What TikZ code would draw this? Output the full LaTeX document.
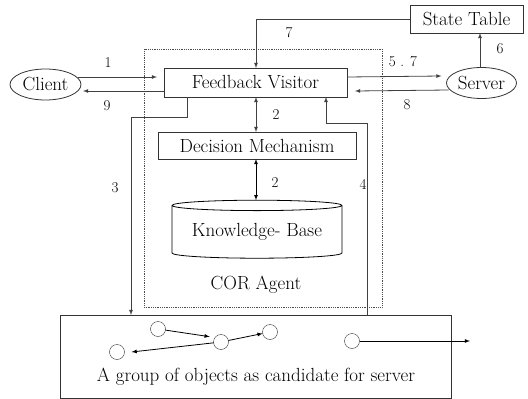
\documentclass[tikz,border=0pt]{standalone}
\usepackage{amsmath}
\usepackage{tikz}
\usetikzlibrary{shapes.geometric}

\begin{document}
\begin{tikzpicture}
  [x=1pt,y=-1pt,>=latex,
  box/.style={rectangle,draw=black!80,thick,align=center,inner sep=0,
                  outer sep=0,font=\fontsize{19}{22}\selectfont},
  actor/.style={ellipse,draw=black!80,thick,inner sep=0,
                  outer sep=0,font=\fontsize{19}{22}\selectfont},
  store/.style={cylinder,shape border rotate=90,draw=black,thick,aspect=0.08,
                  inner sep=0,outer sep=0,font=\fontsize{19}{22}\selectfont},
  agent/.style={rectangle,draw=black!70,densely dotted,thick,outer sep=0},
  obj/.style={circle,draw=black!80,minimum size=15,inner sep=0,outer sep=0},
  num/.style={font=\fontsize{15}{18}\selectfont},
  link/.style={thick,black!75}
                  ]
  \useasboundingbox (0,0) rectangle (528,399);

  \node[agent,minimum width=238,minimum height=258] (cor) at (263,178) {};
  \node[font=\fontsize{19}{22}\selectfont] (cortxt) at (256,285) {COR Agent};
  \node[actor,minimum width=71,minimum height=31] (client) at (45.5,84.5) {Client};
  \node[box,minimum width=183,minimum height=29] (fv) at (255.5,82.5) {Feedback Visitor};
  \node[box,minimum width=198,minimum height=27] (dm) at (257,145.5) {Decision Mechanism};
  \node[store,minimum width=170,minimum height=58] (kb) at (257,232) {Knowledge- Base};
  \node[box,minimum width=113,minimum height=28] (st) at (466.5,19) {State Table};
  \node[actor,inner xsep=-3pt,minimum width=70,minimum height=31] (server) at (481.5,83) {Server};
  \node[box,minimum width=391,minimum height=83] (grp) at (255.5,356.5) {};
  \node[font=\fontsize{19}{22}\selectfont] (grptxt) at (256,377)
       {A group of objects as candidate for server};

  \node[obj] (o1) at (158,329) {};
  \node[obj] (o2) at (221,342) {};
  \node[obj] (o3) at (270,332) {};
  \node[obj] (o4) at (117,352) {};
  \node[obj] (o5) at (352,341) {};
  \coordinate (out) at (470,341);

  \coordinate (m1) at (187,117);
  \coordinate (m2) at (131,117);
  \coordinate (m3) at (367,123);
  \coordinate (m4) at (326,123);
  \coordinate (m5) at (256,19);
  \coordinate (m6) at (480,0);

  \node[num] (l1) at (108,63) {1};
  \node[num] (l9) at (107,106) {9};
  \node[num] (l2a) at (276,115) {2};
  \node[num] (l2b) at (275,183) {2};
  \node[num] (l3) at (115,188) {3};
  \node[num] (l4) at (363,184) {4};
  \node[num] (l7) at (289,33) {7};
  \node[num] (l57) at (403,62) {5 . 7};
  \node[num] (l8) at (407,105) {8};
  \node[num] (l6) at (500,49) {6};

  \draw[link,->] ([yshift=7.5pt,xshift=-3pt]client.east) to ([yshift=5.5pt,xshift=-7pt]fv.west);
  \draw[link,->] ([yshift=-8.5pt]fv.west) to ([yshift=-6.5pt,xshift=2pt]client.east);
  \draw[link,->] ([yshift=5.5pt]fv.east) to ([yshift=7pt,xshift=-5pt]server.west);
  \draw[link,->] ([yshift=-7pt,xshift=2pt]server.west) to ([yshift=-8.5pt,xshift=8pt]fv.east);
  \draw[link,->] (server.north -| m6) to (st.south -| m6);
  \draw[link,->] (st.west) -- (m5) -- (m5 |- fv.north);
  \draw[link,<->] (fv.south -| m5) to (dm.north -| m5);
  \draw[thick,black,<->] (dm.south -| m5) to (kb.north -| m5);
  \draw[link,->] (fv.south -| m1) -- (m1) -- (m2) -- (m2 |- grp.north);
  \draw[link,->] (grp.north -| m3) -- (m3) -- (m4) -- (m4 |- fv.south);

  \draw[thick,->] (o1) to ([xshift=-6pt]o2.north west);
  \draw[thick,->] (o2) to (o3);
  \draw[thick,->] (o2) to ([xshift=7pt]o4.east);
  \draw[thick,->] (o5) to (out);
\end{tikzpicture}
\end{document}
